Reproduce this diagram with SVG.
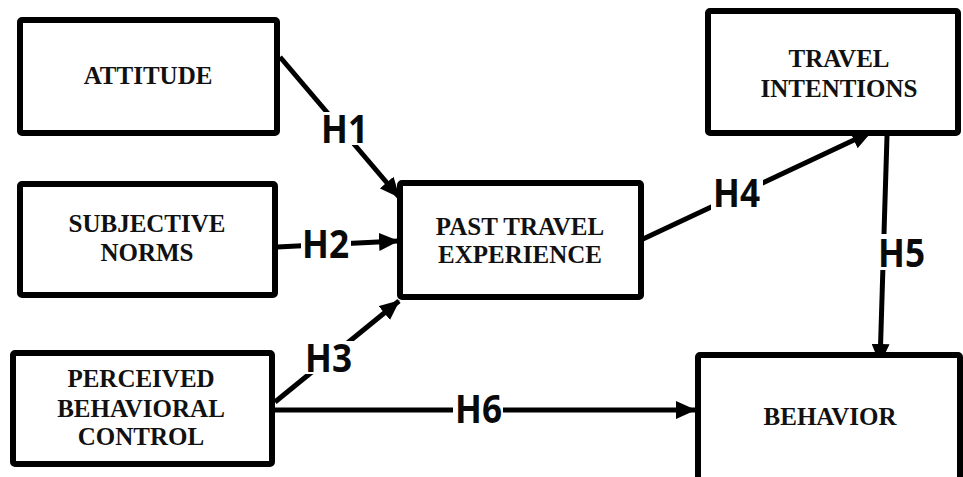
<svg xmlns="http://www.w3.org/2000/svg" width="963" height="477" viewBox="0 0 963 477">
  <style>
    .box { fill: #ffffff; stroke: #000000; stroke-width: 6; }
    .name { font-family: "Liberation Serif", "Times New Roman", serif; font-weight: bold; font-size: 25px; fill: #111111; text-anchor: middle; }
    .edge { stroke: #000000; stroke-width: 5; fill: none; marker-end: url(#head); }
    .hyp { font-family: "Open Sans", "Liberation Sans", sans-serif; font-weight: bold; font-size: 39px; fill: #0a0a0a; }
    .mask { fill: #ffffff; }
  </style>
  <defs>
    <marker id="head" markerUnits="userSpaceOnUse" markerWidth="20" markerHeight="18" viewBox="0 0 20 18" refX="19" refY="9" orient="auto">
      <path d="M0,0 L20,9 L0,18 Z" fill="#000000"/>
    </marker>
  </defs>
  <rect width="963" height="477" fill="#ffffff"/>

  <!-- connectors -->
  <g id="connectors">
    <line class="edge" x1="280" y1="57" x2="399" y2="197"/>
    <line class="edge" x1="277" y1="247" x2="398" y2="241"/>
    <line class="edge" x1="275" y1="402" x2="399" y2="301"/>
    <line class="edge" x1="643" y1="239" x2="871" y2="132"/>
    <line class="edge" x1="887" y1="136" x2="880" y2="363"/>
    <line class="edge" x1="275" y1="410" x2="695" y2="410"/>
    <!-- hypothesis labels on white backing -->
    <rect class="mask" x="320" y="112" width="50" height="33"/>
    <text class="hyp" x="321" y="143" textLength="47" lengthAdjust="spacingAndGlyphs">H1</text>
    <rect class="mask" x="301" y="229" width="50" height="32"/>
    <text class="hyp" x="302" y="258" textLength="47" lengthAdjust="spacingAndGlyphs">H2</text>
    <rect class="mask" x="303" y="341" width="51" height="33"/>
    <text class="hyp" x="305" y="372" textLength="47" lengthAdjust="spacingAndGlyphs">H3</text>
    <rect class="mask" x="711" y="177" width="52" height="33"/>
    <text class="hyp" x="713" y="207" textLength="47" lengthAdjust="spacingAndGlyphs">H4</text>
    <rect class="mask" x="876" y="234" width="52" height="36"/>
    <text class="hyp" x="878" y="267" textLength="47" lengthAdjust="spacingAndGlyphs">H5</text>
    <rect class="mask" x="453" y="393" width="50" height="32"/>
    <text class="hyp" x="455" y="423" textLength="47" lengthAdjust="spacingAndGlyphs">H6</text>
  </g>

  <g id="attitude">
    <rect class="box" x="20" y="20" width="257" height="113" rx="2"/>
    <text class="name" x="148" y="84">ATTITUDE</text>
  </g>
  <g id="subjective-norms">
    <rect class="box" x="20" y="184" width="255" height="111" rx="2"/>
    <text class="name" x="147" y="232">SUBJECTIVE</text>
    <text class="name" x="147" y="261">NORMS</text>
  </g>
  <g id="past-travel-experience">
    <rect class="box" x="400" y="183" width="241" height="114" rx="2"/>
    <text class="name" x="520" y="235">PAST TRAVEL</text>
    <text class="name" x="520" y="263">EXPERIENCE</text>
  </g>
  <g id="travel-intentions">
    <rect class="box" x="708" y="11" width="250" height="122" rx="2"/>
    <text class="name" x="839" y="67">TRAVEL</text>
    <text class="name" x="839" y="97">INTENTIONS</text>
  </g>
  <g id="perceived-behavioral-control">
    <rect class="box" x="13" y="353" width="259" height="111" rx="2"/>
    <text class="name" x="141" y="387">PERCEIVED</text>
    <text class="name" x="141" y="417">BEHAVIORAL</text>
    <text class="name" x="141" y="445">CONTROL</text>
  </g>
  <g id="behavior">
    <rect class="box" x="698" y="355" width="262" height="135" rx="2"/>
    <text class="name" x="830" y="425">BEHAVIOR</text>
  </g>
</svg>
